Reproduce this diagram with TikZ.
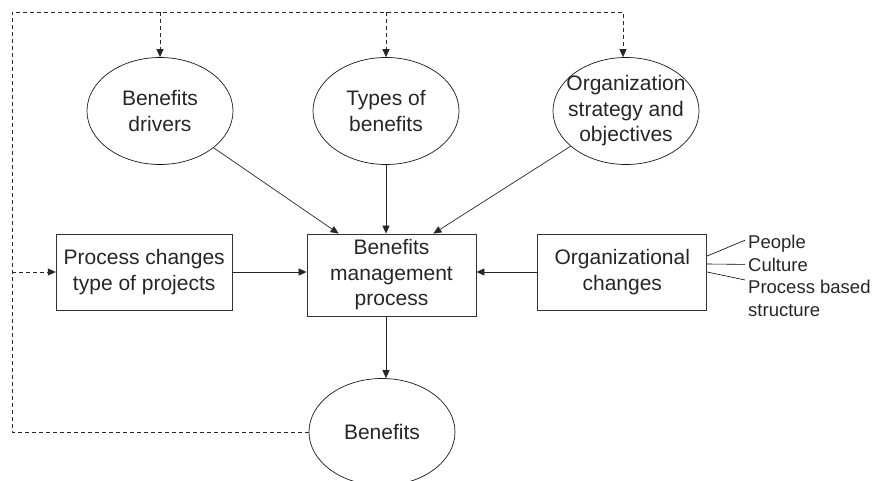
\documentclass[tikz,border=0pt]{standalone}
\usepackage{fontspec}
\setmainfont{Liberation Sans}
\usepackage{tikz}
\usetikzlibrary{shapes.geometric, arrows.meta, positioning}
\newcommand{\fuente}{\fontsize{21}{25.5}\selectfont}
\newcommand{\fuentechica}{\fontsize{18.5}{22.5}\selectfont}
\tikzset{
    caja/.style={rectangle, draw=black!80, line width=0.8pt, align=center, inner sep=0pt, font=\fuente, text=black!85},
    elipse/.style={ellipse, draw=black!90, line width=0.7pt, align=center, inner sep=0pt, minimum width=146pt, minimum height=107pt, font=\fuente, text=black!85},
    etiqueta/.style={inner sep=0pt, align=left, font=\fuentechica, text=black!85},
    flecha/.style={-{Triangle[length=8pt, width=7pt]}, line width=0.7pt, black!85},
    punteado/.style={dash pattern=on 4pt off 3pt, line width=0.7pt, black!90}
}

\begin{document}
\begin{tikzpicture}[x=1pt, y=-1pt]
            \useasboundingbox (0,0) rectangle (881,481);

            % 1. Nodo central (Ancla)
            \node[caja, minimum width=169pt, minimum height=82pt] (gestion) at (391.5,275) {Benefits\\management\\process};

            % 2. Cajas laterales
            \node[caja, minimum width=176pt, minimum height=76pt, left=74pt of gestion, yshift=3pt] (procesos) {Process changes\\type of projects};
            \node[caja, minimum width=169pt, minimum height=76pt, right=61pt of gestion, yshift=3pt] (cambios) {Organizational\\changes};

            % 3. Fila superior de elipses
            \node[elipse] (impulsores) at (160,111) {Benefits\\drivers};
            \node[elipse] (tipos) at (386,111) {Types of\\benefits};
            \node[elipse, inner xsep=-12pt] (estrategia) at (626,111) {Organization\\strategy and\\objectives};

            % 4. Elipse inferior
            \node[elipse] (beneficios) at (382,432) {Benefits};

            % 5. Etiquetas de cambios organizacionales
            \node[etiqueta, anchor=base west] (personas) at (748,248) {People};
            \node[etiqueta, anchor=base west] (cultura) at (748,271) {Culture};
            \node[etiqueta, anchor=north west] (estructura) at (748,280) {Process based\\structure};

            % --- CONEXIONES ---

            % Flechas hacia el proceso de gestion
            \draw[flecha] (impulsores) -- ([xshift=32pt]gestion.north west);
            \draw[flecha] (tipos.south) -- (tipos.south |- gestion.north);
            \draw[flecha] (estrategia) -- ([xshift=-43pt]gestion.north east);
            \draw[flecha] (procesos.east) -- (procesos.east -| gestion.west);
            \draw[flecha] (cambios.west) -- (cambios.west -| gestion.east);
            \draw[flecha] (tipos.south |- gestion.south) -- (tipos.south |- beneficios.north);

            % Lazo de retroalimentacion punteado
            \coordinate (esquina) at (12,12);
            \draw[punteado, flecha, dash pattern=on 4pt off 3pt] (beneficios.west) -| (esquina) -| ([xshift=-3pt]estrategia.north);
            \draw[punteado, flecha, dash pattern=on 4pt off 3pt] (esquina -| impulsores.north) -- (impulsores.north);
            \draw[punteado, flecha, dash pattern=on 4pt off 3pt] (esquina -| tipos.north) -- (tipos.north);
            \draw[punteado, flecha, dash pattern=on 4pt off 3pt] (esquina |- procesos.west) -- (procesos.west);

            % Lineas hacia las etiquetas
            \draw[line width=0.6pt] ([yshift=16pt]cambios.east) -- ([xshift=-3pt, yshift=3pt]personas.west);
            \draw[line width=0.6pt] ([yshift=8pt]cambios.east) -- ([xshift=-3pt]cultura.west);
            \draw[line width=0.6pt] (cambios.east) -- ([xshift=-3pt]estructura.north west |- 0,280);

        \end{tikzpicture}
\end{document}
